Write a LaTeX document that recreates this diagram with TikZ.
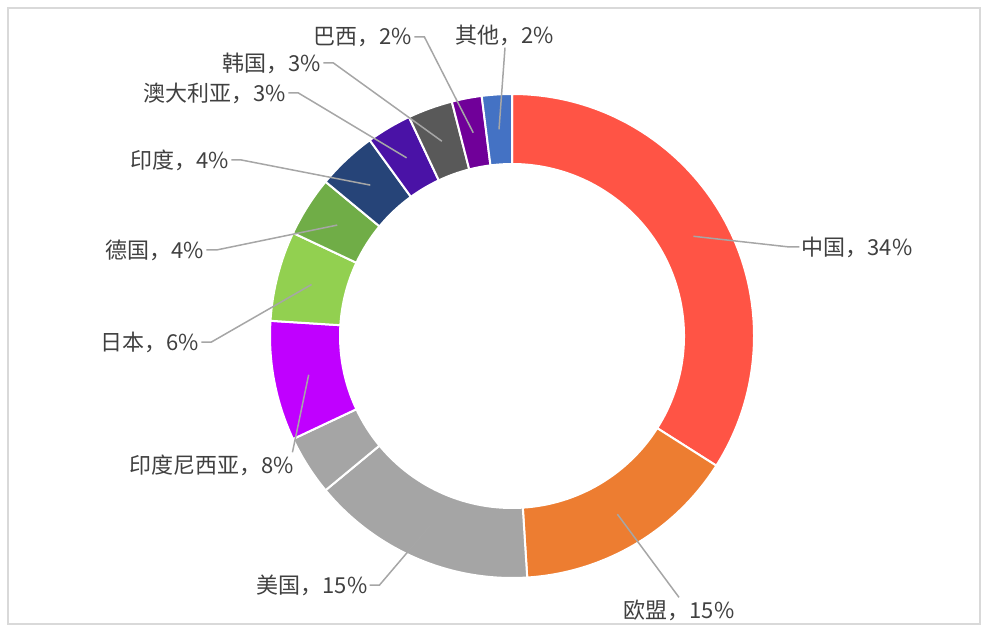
\documentclass[tikz,border=0pt]{standalone}
\usepackage{fontspec}
\setmainfont{Noto Sans CJK SC}
\definecolor{labeltext}{HTML}{404040}
\definecolor{leadergray}{HTML}{A6A6A6}
\definecolor{framegray}{HTML}{D9D9D9}
\definecolor{cChina}{HTML}{FF5445}
\definecolor{cEU}{HTML}{ED7D31}
\definecolor{cUS}{HTML}{A5A5A5}
\definecolor{cX}{HTML}{A5A5A5}
\definecolor{cIdn}{HTML}{C000FF}
\definecolor{cJp}{HTML}{92D050}
\definecolor{cDe}{HTML}{70AD47}
\definecolor{cIn}{HTML}{264478}
\definecolor{cAu}{HTML}{4A12A6}
\definecolor{cKr}{HTML}{595959}
\definecolor{cBr}{HTML}{700099}
\definecolor{cOt}{HTML}{4472C4}
\newcommand\donutseg[3]{%
  \filldraw[fill=#3, segborder] ({90-#1}:242) arc[start angle={90-#1}, end angle={90-#2}, radius=242]
    -- ({90-#2}:172) arc[start angle={90-#2}, end angle={90-#1}, radius=172] -- cycle;}
\begin{document}
\begin{tikzpicture}[x=1pt,y=1pt,
  lbl/.style={font=\fontsize{22}{24}\selectfont, text=labeltext, inner sep=2pt},
  leader/.style={draw=leadergray, line width=1.5pt},
  segborder/.style={draw=white, line width=2pt, line join=round}]
\useasboundingbox (0,0) rectangle (982,630);
\draw[framegray, line width=1.5pt] (8,6) rectangle (980,622);
\begin{scope}[shift={(512,294)}]
  \donutseg{0}{122.4}{cChina}
  \donutseg{122.4}{176.4}{cEU}
  \donutseg{176.4}{230.4}{cUS}
  \donutseg{230.4}{244.8}{cX}
  \donutseg{244.8}{273.6}{cIdn}
  \donutseg{273.6}{295.2}{cJp}
  \donutseg{295.2}{309.6}{cDe}
  \donutseg{309.6}{324}{cIn}
  \donutseg{324}{334.8}{cAu}
  \donutseg{334.8}{345.6}{cKr}
  \donutseg{345.6}{352.8}{cBr}
  \donutseg{352.8}{360}{cOt}
  \coordinate (pcn) at ({90-61.2}:207);
  \coordinate (peu) at ({90-149.4}:207);
  \coordinate (pus) at ({90-203.4}:207);
  \coordinate (pidn) at ({90-259.2}:207);
  \coordinate (pjp) at ({90-284.4}:207);
  \coordinate (pde) at ({90-302.4}:207);
  \coordinate (pin) at ({90-316.8}:207);
  \coordinate (pau) at ({90-329.4}:207);
  \coordinate (pkr) at ({90-340.2}:207);
  \coordinate (pbr) at ({90-349.2}:207);
  \coordinate (pot) at ({90-356.4}:207);
\end{scope}
\node[lbl] (lot) at (505,595) {其他，2\%};
\node[lbl] (lbr) at (363,593) {巴西，2\%};
\node[lbl] (lkr) at (272,567) {韩国，3\%};
\node[lbl] (lau) at (215,537) {澳大利亚，3\%};
\node[lbl] (lin) at (180,470) {印度，4\%};
\node[lbl] (lde) at (155,380) {德国，4\%};
\node[lbl] (ljp) at (150,288) {日本，6\%};
\node[lbl] (lidn) at (212,165) {印度尼西亚，8\%};
\node[lbl] (lcn) at (857,383) {中国，34\%};
\node[lbl] (leu) at (679,20) {欧盟，15\%};
\node[lbl] (lus) at (312,45) {美国，15\%};
\draw[leader] (lot.south) -- (pot);
\draw[leader] (lbr.east) -- ++(10,0) -- (pbr);
\draw[leader] (lkr.east) -- ++(10,0) -- (pkr);
\draw[leader] (lau.east) -- ++(10,0) -- (pau);
\draw[leader] (lin.east) -- ++(10,0) -- (pin);
\draw[leader] (lde.east) -- ++(10,0) -- (pde);
\draw[leader] (ljp.east) -- ++(10,0) -- (pjp);
\draw[leader] ([xshift=-4pt]lidn.north east) -- (pidn);
\draw[leader] (lcn.west) -- ++(-10,0) -- (pcn);
\draw[leader] (leu.north) -- (peu);
\draw[leader] (lus.east) -- ++(10,0) -- (pus);
\end{tikzpicture}
\end{document}
